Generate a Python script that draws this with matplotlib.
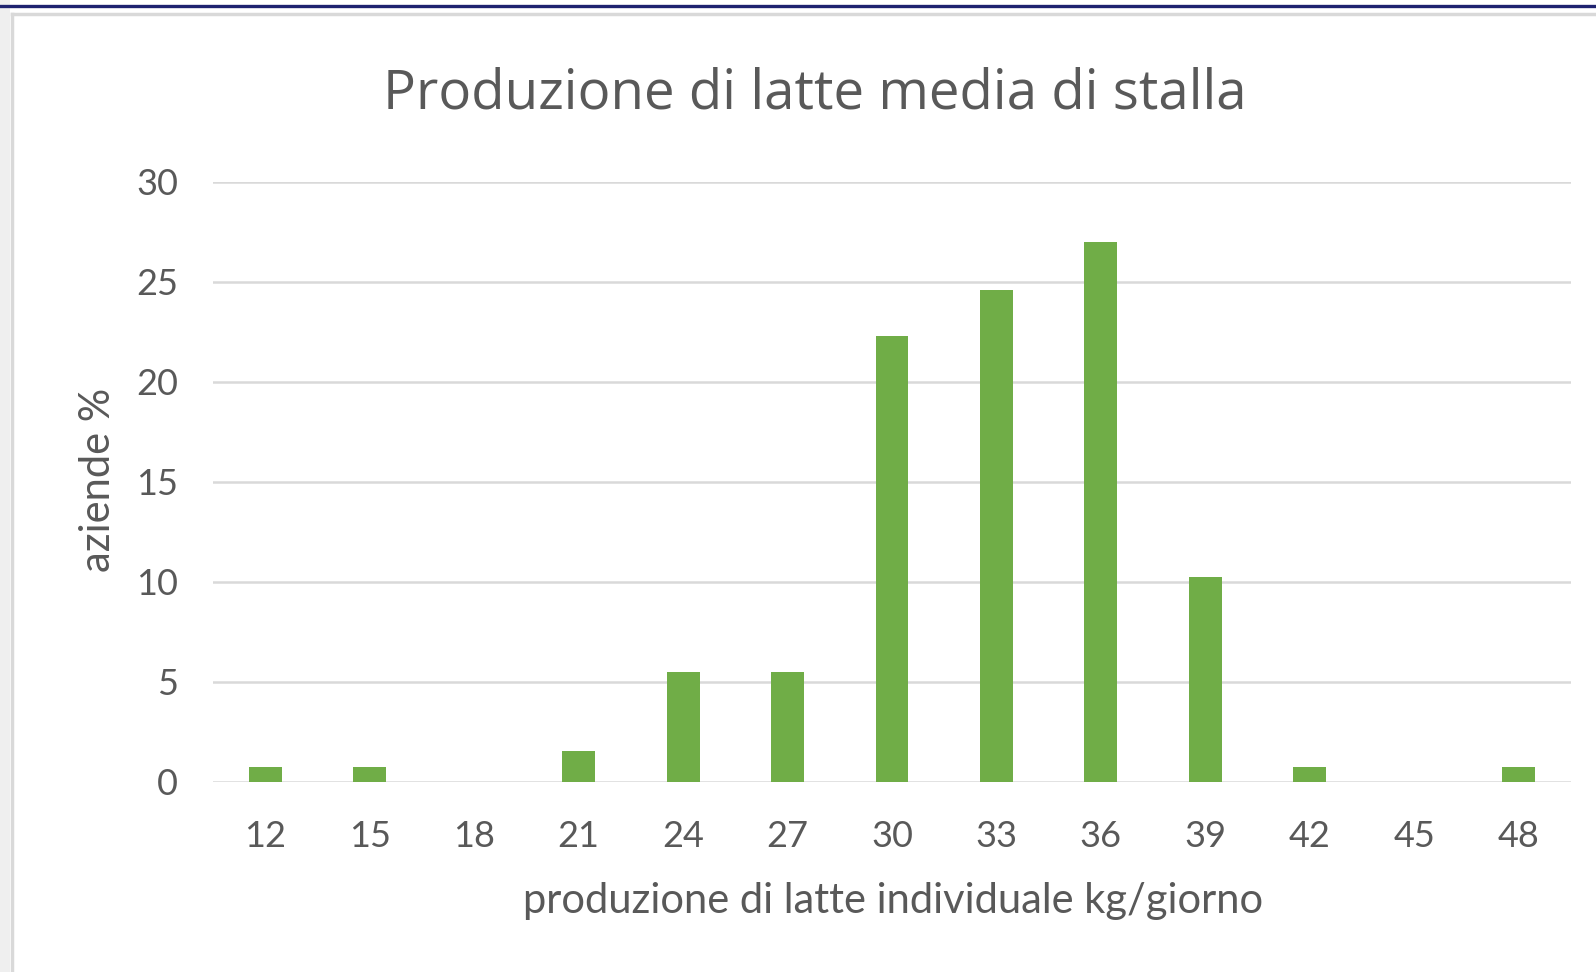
import matplotlib
matplotlib.use("Agg")
import matplotlib.pyplot as plt
from matplotlib.patches import Rectangle
from matplotlib.lines import Line2D

# ---- data ----
categories = ["12", "15", "18", "21", "24", "27", "30", "33", "36", "39", "42", "45", "48"]
values = [0.75, 0.75, 0.0, 1.55, 5.5, 5.5, 22.3, 24.6, 27.0, 10.25, 0.75, 0.0, 0.75]
y_ticks = [0, 5, 10, 15, 20, 25, 30]
title = "Produzione di latte media di stalla"
xlabel = "produzione di latte individuale kg/giorno"
ylabel = "aziende %"

W, H = 1596, 972
plt.rcParams['font.family'] = ['Lato', 'DejaVu Sans']
TXT = "#595959"
BAR = "#70AD47"
GRID = "#D9D9D9"

fig = plt.figure(figsize=(W / 100, H / 100), dpi=100)
fig.patch.set_facecolor("white")

# frame decorations (px -> figure fraction)
def fx(x): return x / W
def fy(y): return 1 - y / H

fig.add_artist(Line2D([0, 1], [fy(5.7), fy(5.7)], color="#1F2370", lw=2.4, transform=fig.transFigure))
fig.add_artist(Rectangle((fx(0), fy(972)), fx(10), 1, facecolor="#EFEFEF", edgecolor="none", transform=fig.transFigure))
fig.add_artist(Line2D([fx(11.5), fx(11.5)], [fy(14.5), 0], color="#D9D9D9", lw=2.5, transform=fig.transFigure))
fig.add_artist(Line2D([fx(11.5), 1], [fy(14.5), fy(14.5)], color="#D9D9D9", lw=2.5, transform=fig.transFigure))

left, right = 213, 1571
top, bottom = 181.7, 781.7
ax = fig.add_axes([fx(left), fy(bottom), fx(right) - fx(left), (bottom - top) / H])

x = list(range(len(categories)))
ax.bar(x, values, width=0.315, color=BAR, zorder=3)
ax.set_xlim(-0.5, len(categories) - 0.5)
ax.set_ylim(0, 30)
ax.set_yticks(y_ticks)
ax.set_xticks(x)
ax.set_xticklabels(categories)
for s in ax.spines.values():
    s.set_visible(False)
ax.yaxis.grid(True, color=GRID, lw=1.8, zorder=0)
ax.set_axisbelow(True)
ax.tick_params(axis='both', length=0, labelsize=26, labelcolor=TXT)
ax.tick_params(axis='y', pad=25)
ax.tick_params(axis='x', pad=27.5)
ax.set_facecolor("none")

fig.text(fx(815), fy(108.3), title, ha='center', va='baseline', fontsize=39.3,
         color=TXT, family=['Open Sans', 'DejaVu Sans'])
fig.text(fx(893), fy(913), xlabel, ha='center', va='baseline', fontsize=30, color=TXT)
fig.text(fx(110), fy(480), ylabel, ha='center', va='baseline', rotation=90,
         rotation_mode='anchor', fontsize=30, color=TXT)

fig.savefig("out.png", dpi=100, facecolor="white")
